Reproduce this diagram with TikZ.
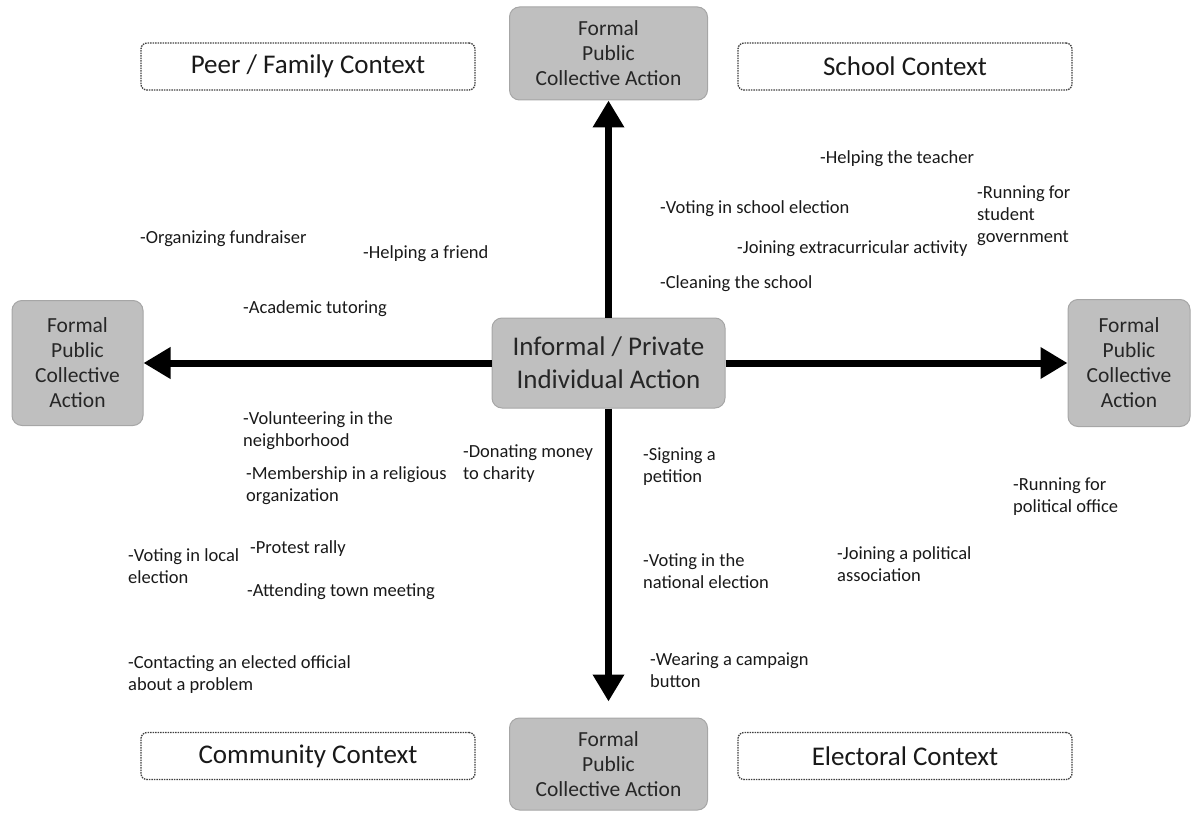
\documentclass[tikz,border=0pt]{standalone}
\usepackage{fontspec}
\setmainfont{Carlito}
\usetikzlibrary{arrows.meta}
\tikzstyle{actbox}=[rounded corners=10pt,fill=black!25,draw=black!35,line width=1pt,align=center,text=black!85,font=\fontsize{21.5}{25}\selectfont]
\tikzstyle{ctrbox}=[actbox,minimum width=233pt,minimum height=90pt,font=\fontsize{27}{33}\selectfont]
\tikzstyle{ctxbox}=[rounded corners=6pt,draw=black!75,line width=1.3pt,dash pattern=on 1.5pt off 1pt,minimum width=334pt,minimum height=47pt,text=black!90,font=\fontsize{27}{30}\selectfont]
\tikzstyle{item}=[anchor=north west,inner sep=0pt,align=left,text=black!90,font=\fontsize{18.5}{22}\selectfont]
\tikzstyle{axis}=[line width=7pt,-{Triangle[width=30pt,length=27pt]}]

\begin{document}
\begin{tikzpicture}[x=1pt,y=-1pt]
    \useasboundingbox (0,0) rectangle (1193,813);
    \node[ctrbox] (ctr) at (608.5,363) {Informal / Private\\Individual Action};
    \node[actbox,minimum width=198pt,minimum height=93pt] (top) at (608.5,53.5) {Formal\\Public\\Collective Action};
    \node[actbox,minimum width=198pt,minimum height=92pt] (bot) at (608.5,764) {Formal\\Public\\Collective Action};
    \node[actbox,minimum width=131pt,minimum height=125pt] (lft) at (77.5,363) {Formal\\Public\\Collective\\Action};
    \node[actbox,minimum width=122pt,minimum height=127pt] (rgt) at (1129,363) {Formal\\Public\\Collective\\Action};

    \node[ctxbox] (c1) at (308,66.5) {Peer / Family Context};
    \node[ctxbox] (c2) at (905,66.5) {School Context};
    \node[ctxbox] (c3) at (308,756) {Community Context};
    \node[ctxbox] (c4) at (905,756) {Electoral Context};

    \foreach \to in {top,lft,rgt}
    \draw[axis] (ctr) -- (\to);
    \draw[axis,shorten >=16pt] (ctr) -- (bot);

    % peer / family
    \node[item] (i1) at (140,230) {-Organizing fundraiser};
    \node[item] (i2) at (363,245) {-Helping a friend};
    \node[item] (i3) at (243,300) {-Academic tutoring};
    % school
    \node[item] (i4) at (820,150) {-Helping the teacher};
    \node[item] (i5) at (660,200) {-Voting in school election};
    \node[item] (i6) at (977,186) {-Running for\\student\\government};
    \node[item] (i7) at (737,240) {-Joining extracurricular activity};
    \node[item] (i8) at (660,275) {-Cleaning the school};
    % community
    \node[item] (i9) at (243,411) {-Volunteering in the\\neighborhood};
    \node[item] (i10) at (463,445) {-Donating money\\to charity};
    \node[item] (i11) at (246,466) {-Membership in a religious\\organization};
    \node[item] (i12) at (128,548) {-Voting in local\\election};
    \node[item] (i13) at (250,540) {-Protest rally};
    \node[item] (i14) at (247,583) {-Attending town meeting};
    \node[item] (i15) at (128,655) {-Contacting an elected official\\about a problem};
    % electoral
    \node[item] (i16) at (643,448) {-Signing a\\petition};
    \node[item] (i17) at (1013,478) {-Running for\\political office};
    \node[item] (i18) at (643,553) {-Voting in the\\national election};
    \node[item] (i19) at (837,546) {-Joining a political\\association};
    \node[item] (i20) at (650,653) {-Wearing a campaign\\button};
\end{tikzpicture}
\end{document}
